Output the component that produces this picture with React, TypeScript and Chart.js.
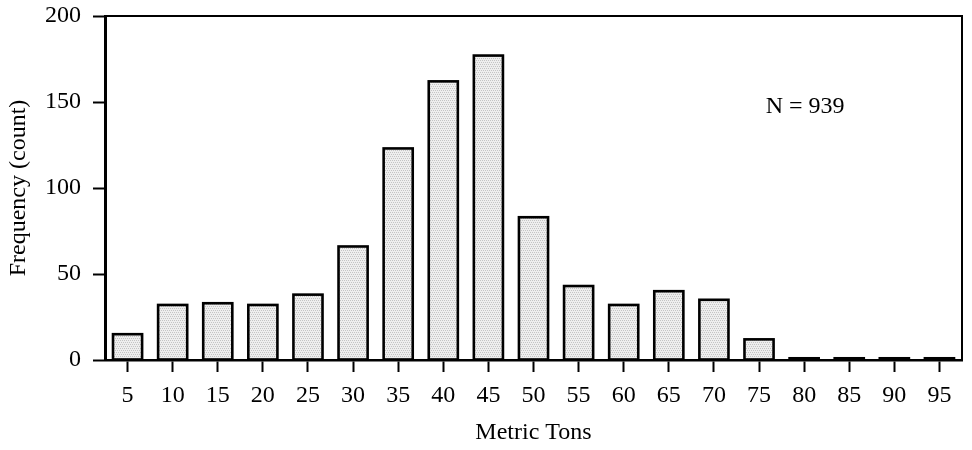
import React, { useEffect, useRef } from "react";
import { Chart, registerables } from "chart.js";

Chart.register(...registerables);

const categories = ["5", "10", "15", "20", "25", "30", "35", "40", "45", "50", "55", "60", "65", "70", "75", "80", "85", "90", "95"];
const frequencies = [15, 32, 33, 32, 38, 66, 123, 162, 177, 83, 43, 32, 40, 35, 12, 1, 1, 1, 1];
const yTicks = [0, 50, 100, 150, 200];
const annotationText = "N = 939";
const xTitle = "Metric Tons";
const yTitle = "Frequency (count)";

const FONT = "'Liberation Serif', 'Times New Roman', serif";
const FS = 24;

function makePattern(): CanvasPattern | string {
  const c = document.createElement("canvas");
  c.width = 4;
  c.height = 4;
  const ctx = c.getContext("2d");
  if (!ctx) return "#dddddd";
  ctx.fillStyle = "#eeeeee";
  ctx.fillRect(0, 0, 4, 4);
  ctx.fillStyle = "#c4c4c4";
  ctx.fillRect(0, 0, 1, 1);
  ctx.fillRect(2, 0, 1, 1);
  ctx.fillRect(1, 2, 1, 1);
  ctx.fillRect(3, 2, 1, 1);
  const p = ctx.createPattern(c, "repeat");
  return p || "#dddddd";
}

const framePlugin = {
  id: "frame",
  afterDatasetsDraw(chart: any) {
    const { ctx, chartArea } = chart;
    ctx.save();
    // bar outlines centred on the bar edges
    ctx.strokeStyle = "#000";
    ctx.lineWidth = 2.6;
    ctx.lineJoin = "miter";
    const meta = chart.getDatasetMeta(0);
    meta.data.forEach((bar: any) => {
      const { x, y, base, width } = bar.getProps(["x", "y", "base", "width"], true);
      ctx.strokeRect(x - width / 2, Math.min(y, base), width, Math.abs(base - y));
    });
    // frame top & right
    ctx.lineWidth = 2;
    ctx.beginPath();
    ctx.moveTo(chartArea.left, chartArea.top);
    ctx.lineTo(chartArea.right, chartArea.top);
    ctx.lineTo(chartArea.right, chartArea.bottom);
    ctx.stroke();
    ctx.fillStyle = "#000";
    ctx.font = `${FS}px ${FONT}`;
    ctx.textAlign = "center";
    ctx.textBaseline = "middle";
    const tx = chartArea.left + (chartArea.right - chartArea.left) * 0.817;
    const ty = chart.scales.y.getPixelForValue(147);
    ctx.fillText(annotationText, tx, ty);
    ctx.restore();
  },
};

export default function App() {
  const ref = useRef<HTMLCanvasElement | null>(null);
  useEffect(() => {
    if (!ref.current) return;
    const chart = new Chart(ref.current, {
      type: "bar",
      data: {
        labels: categories,
        datasets: [
          {
            data: frequencies,
            backgroundColor: makePattern() as any,
            borderWidth: 0,
            barPercentage: 0.645,
            categoryPercentage: 1,
          },
        ],
      },
      options: {
        animation: false,
        responsive: false,
        maintainAspectRatio: false,
        layout: { padding: { top: 16, right: 10, left: 0, bottom: 0 } },
        plugins: { legend: { display: false }, tooltip: { enabled: false } },
        scales: {
          x: {
            offset: true,
            grid: {
              display: true,
              drawOnChartArea: false,
              drawTicks: true,
              tickLength: 12,
              tickColor: "#000",
              tickWidth: 2,
              offset: false,
            },
            border: { display: true, color: "#000", width: 2.5 },
            ticks: { color: "#000", font: { family: FONT, size: FS }, padding: 9, maxRotation: 0, autoSkip: false },
            title: { display: true, text: xTitle, color: "#000", font: { family: FONT, size: FS }, padding: { top: 0, bottom: 3 } },
            afterFit(scale: any) {
              scale.height = 90;
            },
          },
          y: {
            min: 0,
            max: 200,
            afterBuildTicks(scale: any) {
              scale.ticks = yTicks.map((v) => ({ value: v }));
            },
            grid: {
              display: true,
              drawOnChartArea: false,
              drawTicks: true,
              tickLength: 12,
              tickColor: "#000",
              tickWidth: 2,
            },
            border: { display: true, color: "#000", width: 3 },
            ticks: { color: "#000", font: { family: FONT, size: FS }, padding: 12 },
            title: { display: true, text: yTitle, color: "#000", font: { family: FONT, size: FS }, padding: { top: 4, bottom: 4 } },
            afterFit(scale: any) {
              scale.width = 105;
              scale.paddingTop = 0;
              scale.paddingBottom = 0;
            },
          },
        },
      },
      plugins: [framePlugin],
    });
    return () => chart.destroy();
  }, []);
  return (
    <div style={{ position: "fixed", left: 0, top: 0, width: 972, height: 450, background: "#fff" }}>
      <canvas ref={ref} width={972} height={450} style={{ width: 972, height: 450, display: "block" }} />
    </div>
  );
}
